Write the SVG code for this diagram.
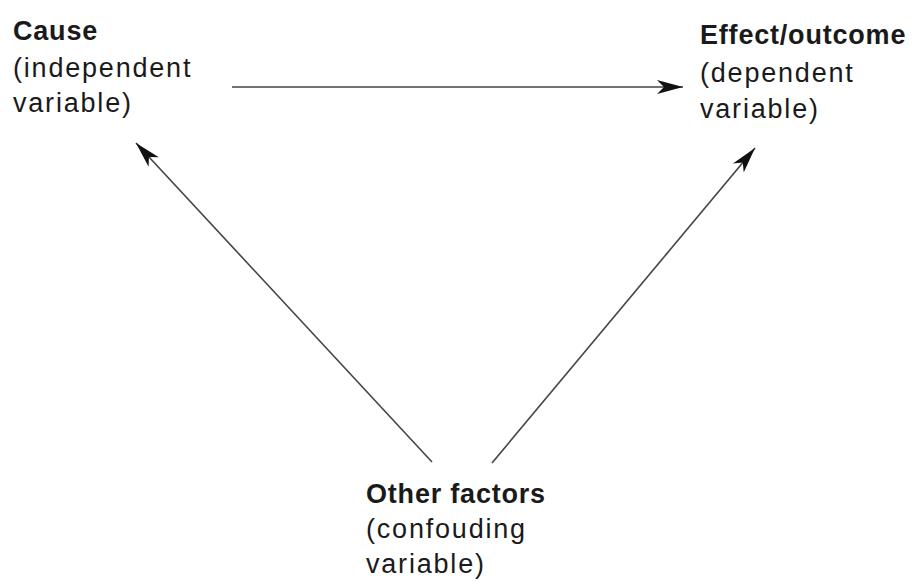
<svg xmlns="http://www.w3.org/2000/svg" width="915" height="581" viewBox="0 0 915 581">
<style>
.t{font-family:"Liberation Sans",Arial,sans-serif;font-size:27px;fill:#1a1a1a;letter-spacing:1.8px}
.b{font-weight:bold;letter-spacing:0.8px}
.c{stroke:#444;stroke-width:1.6;fill:none}
</style>
<defs>
<marker id="ah" markerUnits="userSpaceOnUse" markerWidth="30" markerHeight="18" viewBox="-27 -9 29 18" refX="0" refY="0" orient="auto">
<path d="M0,0 L-26,-7 L-19,0 L-26,7 Z" fill="#111"/>
</marker>
</defs>
<rect width="915" height="581" fill="#fff"/>
<g id="connectors">
<line class="c" x1="232" y1="87" x2="683" y2="87" marker-end="url(#ah)"/>
<line class="c" x1="432" y1="462" x2="136" y2="143" marker-end="url(#ah)"/>
<line class="c" x1="492" y1="463" x2="755" y2="148" marker-end="url(#ah)"/>
</g>
<g id="cause">
<text class="t b" x="13" y="40">Cause</text>
<text class="t" x="13" y="77">(independent</text>
<text class="t" x="13" y="112">variable)</text>
</g>
<g id="effect">
<text class="t b" x="700" y="44">Effect/outcome</text>
<text class="t" x="700" y="82">(dependent</text>
<text class="t" x="700" y="118">variable)</text>
</g>
<g id="other">
<text class="t b" x="366" y="503">Other factors</text>
<text class="t" x="366" y="538">(confouding</text>
<text class="t" x="366" y="573">variable)</text>
</g>
</svg>
